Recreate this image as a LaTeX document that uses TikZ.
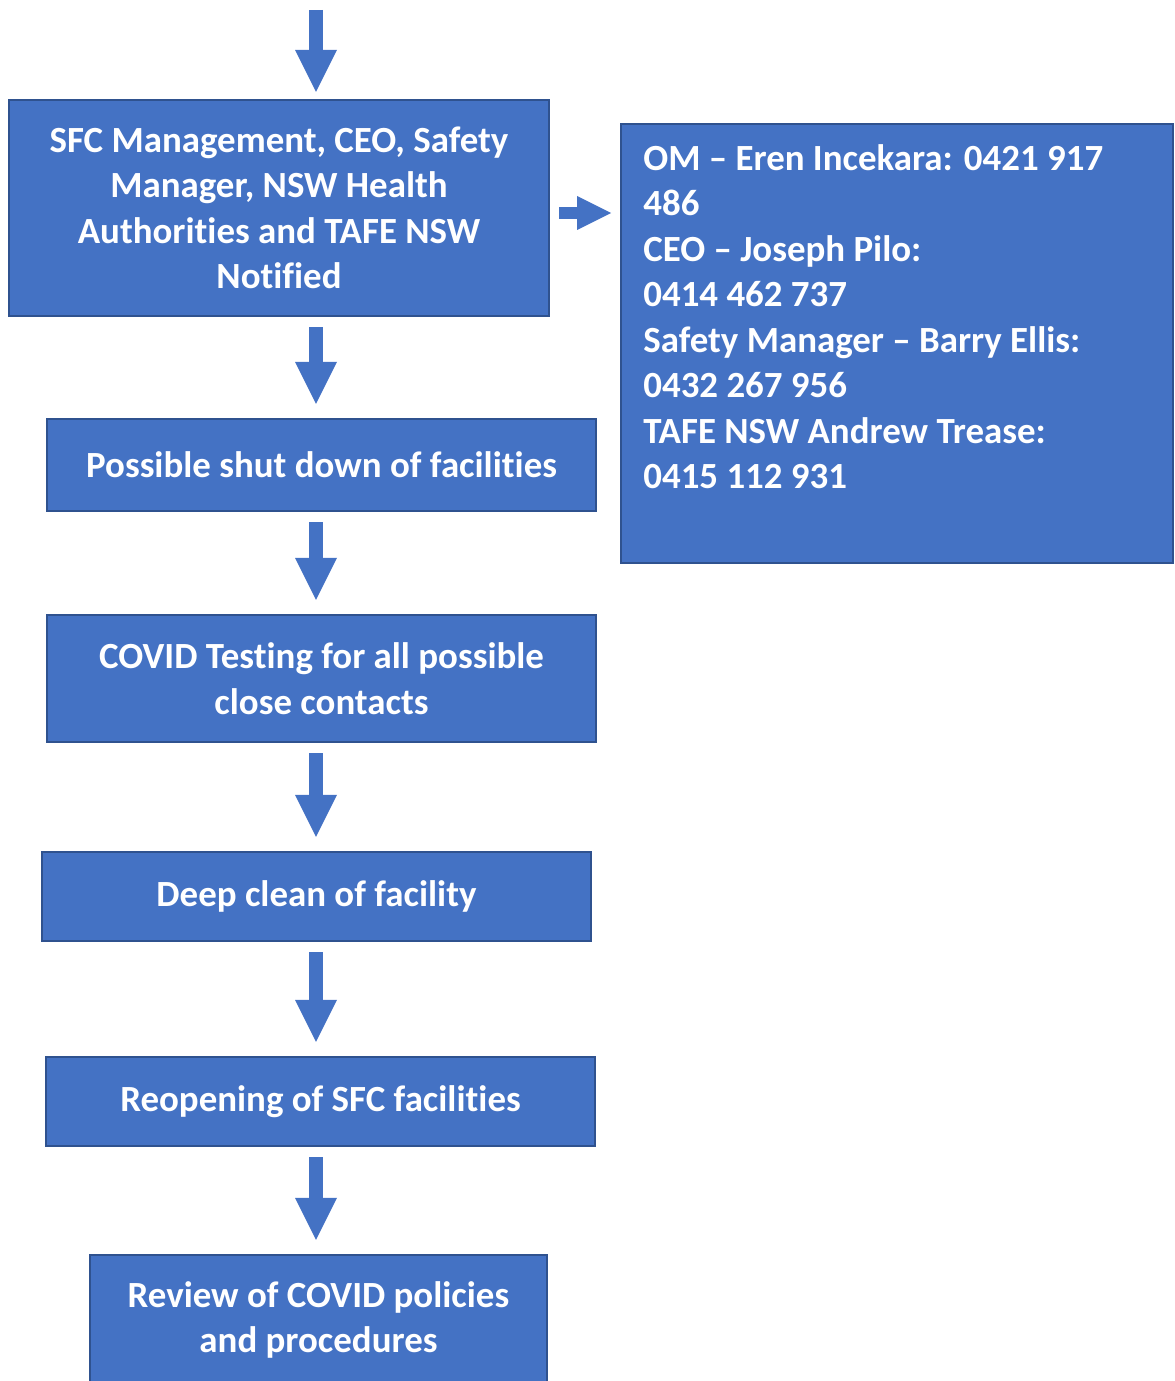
\documentclass[tikz,border=0pt]{standalone}
\usepackage{fontspec}
\setmainfont{Carlito}[Ligatures={TeX,NoCommon}]
\usetikzlibrary{arrows.meta}
\definecolor{boxBlue}{HTML}{4472C4}
\definecolor{boxEdge}{HTML}{2F528F}
\tikzstyle{flowText} = [text=white, font=\bfseries\fontsize{21}{25.9}\selectfont]
\tikzstyle{stepBox} = [rectangle, fill=boxBlue, draw=boxEdge, line width=1.2pt, flowText, align=center, minimum width=10.98cm, inner sep=0pt]
\tikzstyle{flowArrow} = [draw=boxBlue, line width=0.28cm, -{Triangle[length=0.84cm, width=0.84cm, line width=0pt]}, shorten <=0.2cm, shorten >=0.28cm]
\tikzstyle{sideArrow} = [draw=boxBlue, line width=0.24cm, -{Triangle[length=0.68cm, width=0.68cm, line width=0pt]}, shorten <=0.18cm, shorten >=0.18cm]

\begin{document}
\begin{tikzpicture}[x=0.02cm, y=-0.02cm]
    \useasboundingbox (0,0) rectangle (1174,1381);

    \node (SFC) [stepBox, minimum width=10.8cm, minimum height=4.32cm] at (279,208) {SFC Management, CEO, Safety\\Manager, NSW Health\\Authorities and TAFE NSW\\Notified};

    \node (Contacts) [stepBox, minimum width=11.04cm, minimum height=8.78cm] at (897,343.5) {};
    \node (ContactsText) [flowText, align=left, anchor=north west, inner sep=0pt] at (643,144) {OM -- Eren Incekara: 0421 917\\486\\CEO -- Joseph Pilo:\\0414 462 737\\Safety Manager -- Barry Ellis:\\0432 267 956\\TAFE NSW Andrew Trease:\\0415 112 931};

    \node (Shut) [stepBox, minimum height=1.84cm] at (321.5,465) {Possible shut down of facilities};
    \node (Testing) [stepBox, minimum height=2.54cm] at (321.5,678.5) {COVID Testing for all possible\\close contacts};
    \node (Clean) [stepBox, minimum height=1.78cm] at (316.5,896.5) {Deep clean of facility};
    \node (Reopen) [stepBox, minimum height=1.78cm] at (320.5,1101.5) {Reopening of SFC facilities};
    \node (Review) [stepBox, minimum width=9.14cm, minimum height=2.6cm] at (318.5,1320) {Review of COVID policies\\and procedures};

    \coordinate (Col) at (316,10);
    \draw [flowArrow, shorten <=0pt, shorten >=0.14cm] (Col) -- (Col |- SFC.north);
    \draw [flowArrow] (Col |- SFC.south) -- (Col |- Shut.north);
    \draw [flowArrow] (Col |- Shut.south) -- (Col |- Testing.north);
    \draw [flowArrow] (Col |- Testing.south) -- (Col |- Clean.north);
    \draw [flowArrow] (Col |- Clean.south) -- (Col |- Reopen.north);
    \draw [flowArrow] (Col |- Reopen.south) -- (Col |- Review.north);

    \draw [sideArrow] ([yshift=-0.1cm]SFC.east) -- ([yshift=-0.1cm]SFC.east -| Contacts.west);
\end{tikzpicture}
\end{document}
